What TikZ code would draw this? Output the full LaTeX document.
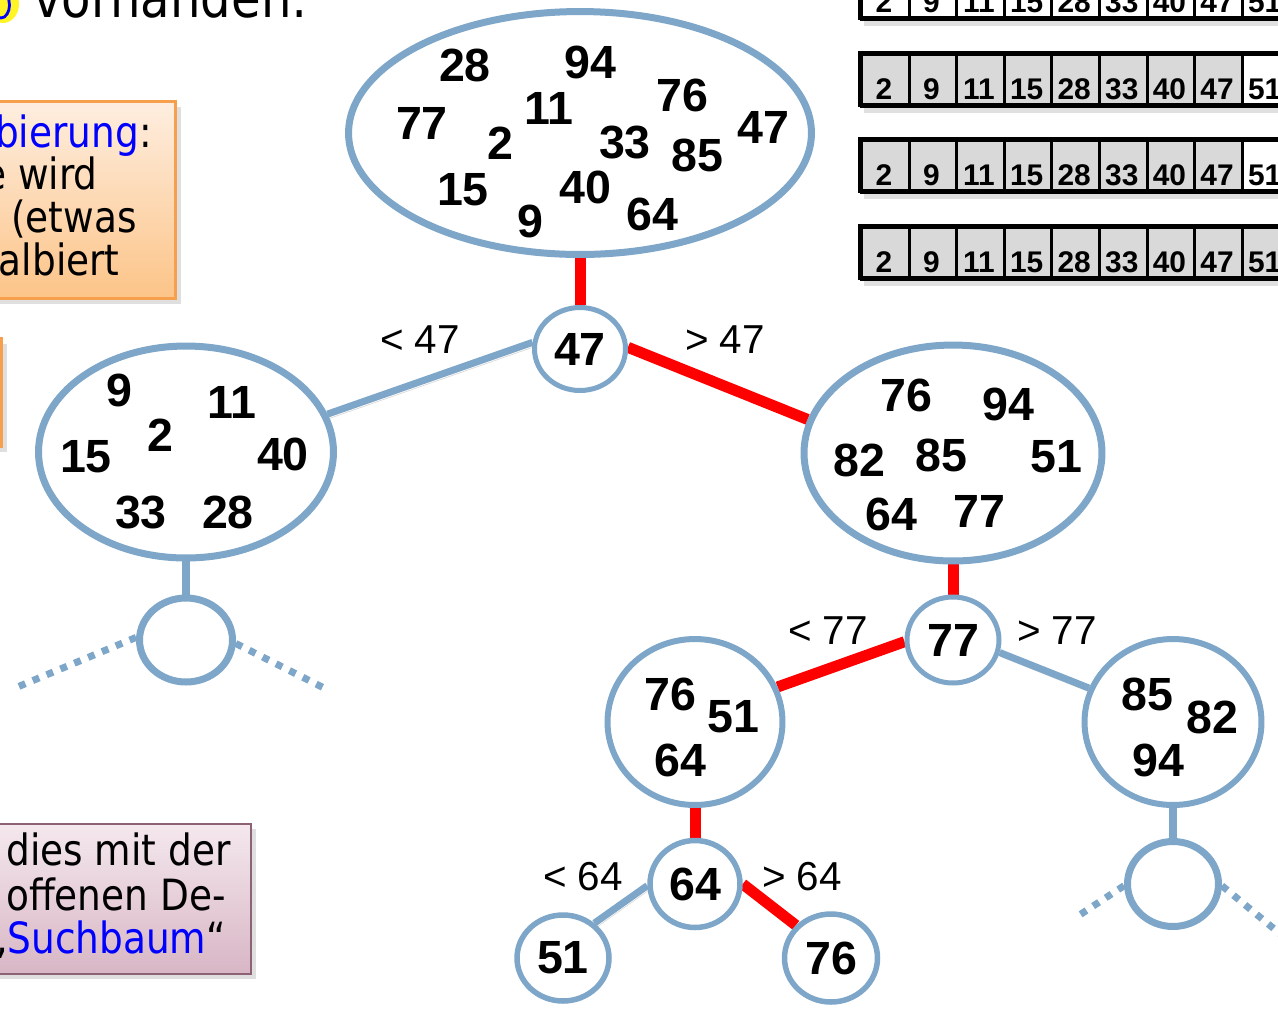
\documentclass[tikz,border=0pt]{standalone}
\usepackage{fontspec}
\setmainfont{Liberation Sans}
\newfontfamily\tah[FakeStretch=0.87]{DejaVu Sans}
\usetikzlibrary{shapes.geometric,shadows}
\pgfdeclarelayer{bg}
\pgfsetlayers{bg,main}
\definecolor{tb}{HTML}{7DA6C8}
\definecolor{cellgray}{HTML}{D9D9D9}
\definecolor{orbd}{HTML}{F6A04D}
\definecolor{ortop}{HTML}{FEEEE0}
\definecolor{orbot}{HTML}{FCC488}
\definecolor{pkbd}{HTML}{8E6275}
\definecolor{pktop}{HTML}{F4E8ED}
\definecolor{pkbot}{HTML}{D8B6C5}
\definecolor{txtblue}{HTML}{0000FF}
\tikzset{
 treenode/.style={ellipse, draw=tb, fill=white, line width=0.12cm, inner sep=0pt},
 bigell/.style={treenode, line width=0.14cm},
 num/.style={font=\bfseries\fontsize{26.5}{26.5}\selectfont, inner sep=0pt},
 cmp/.style={font=\fontsize{23}{23}\selectfont, inner sep=0pt},
 lineshadow/.style={preaction={draw=black, opacity=0.15, transform canvas={xshift=1pt,yshift=-2.5pt}}},
 bluelink/.style={draw=tb, line width=0.14cm, lineshadow},
 redlink/.style={draw=red, line width=0.22cm, lineshadow},
 dotlink/.style={draw=tb, line width=0.14cm, dash pattern=on 0.14cm off 0.16cm},
 cell/.style={draw=black, line width=0.06cm, minimum width=0.952cm, minimum height=1.04cm, inner sep=0pt},
 cellnum/.style={font=\bfseries\fontsize{17}{17}\selectfont, inner sep=0pt},
 boxtext/.style={font=\tah\fontsize{24.5}{24.5}\selectfont, inner sep=0pt},
 textbox/.style={inner sep=0pt, anchor=north east, drop shadow={shadow xshift=3pt, shadow yshift=-3pt, opacity=0.25}},
}
\begin{document}
\begin{tikzpicture}[x=0.02cm, y=-0.02cm]
\useasboundingbox (0,0) rectangle (1278,1009);

% top text fragment
\fill[yellow!85!white] (3,4) ellipse (0.32cm and 0.38cm);
\draw[txtblue, line width=1.6pt] (1,5) ellipse (0.17cm and 0.26cm);
\node[anchor=base west, inner sep=0pt, font=\tah\fontsize{31.5}{31.5}\selectfont] (toptext) at (33,17) {vorhanden:};

% orange box
\node[textbox, draw=orbd, line width=1.5pt, top color=ortop, bottom color=orbot,
      minimum width=8cm, minimum height=3.94cm] (ob) at (177,100) {};
\node[boxtext, anchor=base east] (o1) at (152,147) {\textcolor{txtblue}{bierung}:};
\node[boxtext, anchor=base east] (o2) at (98,189) {e wird};
\node[boxtext, anchor=base east] (o3) at (137,232) {(etwas};
\node[boxtext, anchor=base east] (o4) at (120,275) {albiert};

% small orange box
\node[textbox, draw=orbd, line width=1.5pt, fill=ortop!60!white,
      minimum width=2cm, minimum height=2.16cm] (ob2) at (3,337) {};

% pink box
\node[textbox, draw=pkbd, line width=1.2pt, top color=pktop, bottom color=pkbot,
      minimum width=8cm, minimum height=3cm] (pb) at (252,823) {};
\node[boxtext, anchor=base east] (p1) at (231,865) {dies mit der};
\node[boxtext, anchor=base east] (p2) at (226,910) {offenen De-};
\node[boxtext, anchor=base east] (p3) at (226,953) {„\textcolor{txtblue}{Suchbaum}“};

% arrays
\foreach \r/\yt/\fa/\fb in {1/-34/white/white, 2/53/cellgray/white, 3/139/cellgray/white, 4/226/cellgray/cellgray} {
  \fill[black, opacity=0.12] (864,\yt+53) rectangle (1290,\yt+60);
  \foreach \v [count=\i from 0] in {2,9,11,15,28,33,40,47,51} {
    \ifnum\i<8 \def\cellfill{\fa}\else\def\cellfill{\fb}\fi
    \node[cell, fill=\cellfill, anchor=north west] (r\r c\i) at ({860+47.6*\i},\yt) {};
    \node[cellnum] (t\r c\i) at ({883.8+47.6*\i},\yt+36) {\v};
  }
  \draw[line width=0.08cm] (860,\yt) rectangle (1300,\yt+52);
}

% tree nodes
\node[bigell, minimum width=9.26cm, minimum height=4.86cm] (T) at (580,133) {};
\foreach \v/\x/\y in {28/465/65, 94/590/62, 77/422/123, 11/549/108, 76/682/95, 47/763/127,
  2/500/143, 33/625/142, 85/697/155, 15/463/190, 40/585/187, 9/530/221, 64/652/214}
  \node[num] (T\v) at (\x,\y) {\v};

\node[treenode, num, line width=0.1cm, minimum width=1.82cm, minimum height=1.66cm] (n47) at (580,349) {47};

\node[bigell, minimum width=5.9cm, minimum height=4.24cm] (L) at (186,452) {};
\foreach \v/\x/\y in {9/119/390, 11/232/402, 2/160/435, 15/86/457, 40/283/454, 33/141/512, 28/228/512}
  \node[num] (L\v) at (\x,\y) {\v};

\node[treenode, line width=0.14cm, minimum width=1.86cm, minimum height=1.68cm] (c1) at (186,640) {};

\node[bigell, minimum width=5.96cm, minimum height=4.32cm] (R) at (953,453) {};
\foreach \v/\x/\y in {76/906/395, 94/1008/404, 82/859/460, 85/941/455, 51/1056/457, 64/891/514, 77/979/511}
  \node[num] (R\v) at (\x,\y) {\v};

\node[treenode, num, line width=0.1cm, minimum width=1.84cm, minimum height=1.72cm] (n77) at (953,640) {77};

\node[treenode, minimum width=3.5cm, minimum height=3.32cm] (S1) at (695,722) {};
\foreach \v/\x/\y in {76/670/694, 51/733/717, 64/680/760}
  \node[num] (S1n\v) at (\x,\y) {\v};

\node[treenode, minimum width=3.54cm, minimum height=3.32cm] (S2) at (1173,722) {};
\foreach \v/\x/\y in {85/1147/694, 82/1212/717, 94/1158/760}
  \node[num] (S2n\v) at (\x,\y) {\v};

\node[treenode, num, line width=0.11cm, minimum width=1.8cm, minimum height=1.74cm] (n64) at (695,884) {64};
\node[treenode, num, line width=0.11cm, minimum width=1.84cm, minimum height=1.72cm] (n51) at (563,958) {51};
\node[treenode, num, line width=0.11cm, minimum width=1.86cm, minimum height=1.76cm] (n76) at (831,958) {76};
\node[treenode, line width=0.14cm, minimum width=1.82cm, minimum height=1.70cm] (c2) at (1173,884) {};

% comparison labels
\node[cmp] (l47) at (420,340) {< 47};
\node[cmp] (g47) at (725,340) {> 47};
\node[cmp] (l77) at (828,631) {< 77};
\node[cmp] (g77) at (1057,631) {> 77};
\node[cmp] (l64) at (583,877) {< 64};
\node[cmp] (g64) at (802,877) {> 64};

% connectors
\begin{pgfonlayer}{bg}
\draw[redlink] (T.south) -- (n47.north);
\draw[bluelink] (n47.172) -- (L.15);
\draw[redlink] (n47.2) -- (R.167);
\draw[bluelink, line width=0.16cm] (L.south) -- (c1.north);
\coordinate (d1) at (15,688);
\coordinate (d2) at (328,690);
\draw[dotlink] (c1.177) -- (d1);
\draw[dotlink] (c1.-4) -- (d2);
\draw[redlink] (R.south) -- (n77.north);
\draw[redlink] (n77.182) -- (S1.23);
\draw[bluelink] (n77.-15) -- (S2.158);
\draw[redlink] (S1.south) -- (n64.north);
\draw[bluelink] (n64.182) -- (n51.48);
\draw[redlink] (n64.0) -- (n76.137);
\draw[bluelink, line width=0.16cm] (S2.south) -- (c2.north);
\coordinate (d3) at (1075,918);
\coordinate (d4) at (1290,942);
\draw[dotlink] (c2.182) -- (d3);
\draw[dotlink] (c2.-2) -- (d4);
\end{pgfonlayer}
\end{tikzpicture}
\end{document}
